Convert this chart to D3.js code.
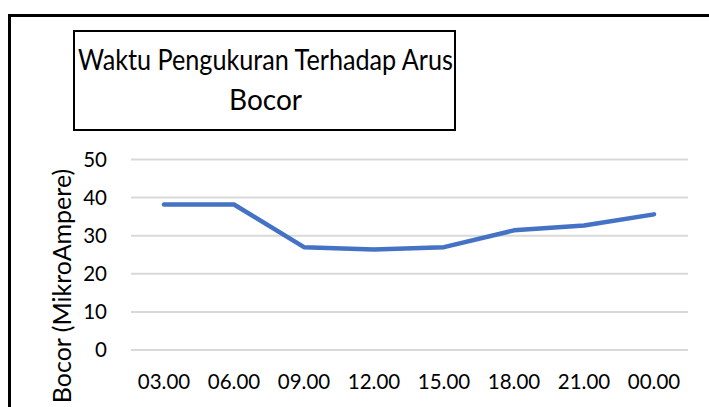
<!DOCTYPE html>
<html>
<head>
<meta charset="utf-8">
<script src="https://cdn.jsdelivr.net/npm/d3@7"></script>
<style>
  body { margin: 0; background: #fff; }
  text { font-family: Lato, "Open Sans", sans-serif; fill: #000; }
</style>
</head>
<body>
<div id="chart"></div>
<script>
// data
var waktu = ["03.00", "06.00", "09.00", "12.00", "15.00", "18.00", "21.00", "00.00"];
var arus = [38.2, 38.2, 27.0, 26.4, 27.0, 31.4, 32.7, 35.6];
var yTicks = [0, 10, 20, 30, 40, 50];
var judul = ["Waktu Pengukuran Terhadap Arus", "Bocor"];
var yJudul = "Bocor (MikroAmpere)";

var width = 709, height = 407;
var svg = d3.select("#chart").append("svg")
    .attr("width", width)
    .attr("height", height);

// outer frame (only top and left edges visible)
svg.append("path")
    .attr("d", "M9.5,420 V15.5 H720")
    .attr("fill", "none")
    .attr("stroke", "#000")
    .attr("stroke-width", 3);

// title box
svg.append("rect")
    .attr("x", 74).attr("y", 31)
    .attr("width", 381).attr("height", 99)
    .attr("fill", "#fff")
    .attr("stroke", "#000")
    .attr("stroke-width", 2);

svg.append("text")
    .attr("x", 265.5).attr("y", 70)
    .attr("text-anchor", "middle")
    .attr("textLength", 375)
    .attr("lengthAdjust", "spacingAndGlyphs")
    .style("font-size", "28px")
    .text(judul[0]);

svg.append("text")
    .attr("x", 265.5).attr("y", 110)
    .attr("text-anchor", "middle")
    .style("font-size", "28px")
    .text(judul[1]);

var x = d3.scaleBand().domain(waktu).range([129, 689]);
var y = d3.scaleLinear().domain([0, 50]).range([350, 159.5]);

var g = svg.append("g");

// gridlines
g.selectAll(".grid")
    .data(yTicks)
    .enter().append("line")
    .attr("x1", 131).attr("x2", 688)
    .attr("y1", function(d) { return y(d); })
    .attr("y2", function(d) { return y(d); })
    .attr("stroke", "#d9d9d9")
    .attr("stroke-width", 2);

// y tick labels
g.selectAll(".ytick")
    .data(yTicks)
    .enter().append("text")
    .attr("x", 107)
    .attr("y", function(d) { return y(d); })
    .attr("dy", "0.36em")
    .attr("text-anchor", "end")
    .style("font-size", "20.5px")
    .text(function(d) { return d; });

// x tick labels
g.selectAll(".xtick")
    .data(waktu)
    .enter().append("text")
    .attr("x", function(d) { return x(d) + x.bandwidth() / 2; })
    .attr("y", 389)
    .attr("text-anchor", "middle")
    .style("font-size", "20.5px")
    .text(function(d) { return d; });

// y axis title
svg.append("text")
    .attr("transform", "translate(71,286) rotate(-90)")
    .attr("text-anchor", "middle")
    .style("font-size", "25px")
    .text(yJudul);

// the line
var line = d3.line()
    .x(function(d, i) { return x(waktu[i]) + x.bandwidth() / 2; })
    .y(function(d) { return y(d); });

g.append("path")
    .datum(arus)
    .attr("d", line)
    .attr("fill", "none")
    .attr("stroke", "#4472c4")
    .attr("stroke-width", 4.5)
    .attr("stroke-linejoin", "round")
    .attr("stroke-linecap", "round");
</script>
</body>
</html>
